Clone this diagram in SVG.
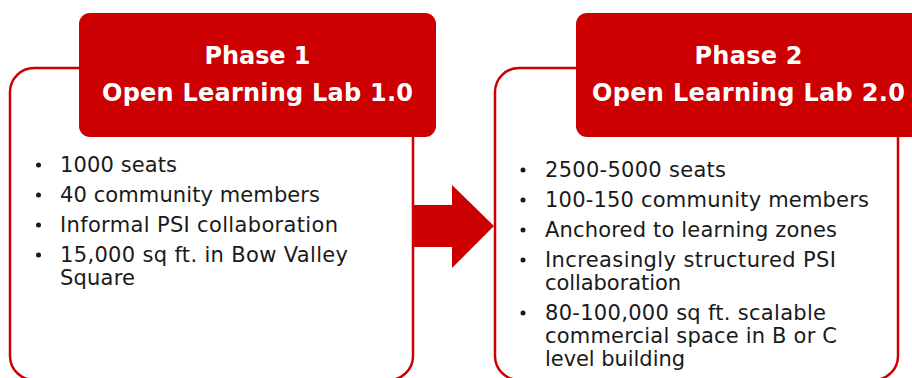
<svg xmlns="http://www.w3.org/2000/svg" width="912" height="378" viewBox="0 0 912 378">
  <defs>
    <style>
      .panel { fill: #ffffff; stroke: #cc0000; stroke-width: 2.5; }
      .header { fill: #cc0000; }
      .title { font-family: "DejaVu Sans", Verdana, sans-serif; font-weight: bold; font-size: 24px; fill: #ffffff; text-anchor: middle; }
      .item { font-family: "DejaVu Sans", Verdana, sans-serif; font-size: 21px; fill: #1a1a1a; }
      .dot { fill: #1a1a1a; }
      .arrow { fill: #cc0000; }
    </style>
  </defs>
  <rect width="912" height="378" fill="#ffffff"/>

  <!-- block arrow between the phases -->
  <g id="connectors">
    <polygon class="arrow" points="410,205 452,205 452,185 494,226 452,268 452,247 410,247"/>
  </g>

  <!-- Phase 1 -->
  <g id="phase1">
    <rect class="panel" x="10" y="68" width="403" height="312" rx="24" ry="24"/>
    <rect class="header" x="79" y="13" width="357" height="124" rx="11" ry="11"/>
    <text class="title" x="257.5" y="64" textLength="106">Phase 1</text>
    <text class="title" x="257.5" y="101" textLength="311">Open Learning Lab 1.0</text>
    <circle class="dot" cx="38.5" cy="165" r="2.5"/>
    <text class="item" x="60" y="172" textLength="117">1000 seats</text>
    <circle class="dot" cx="38.5" cy="195" r="2.5"/>
    <text class="item" x="60" y="202" textLength="260">40 community members</text>
    <circle class="dot" cx="38.5" cy="225" r="2.5"/>
    <text class="item" x="60" y="232" textLength="278">Informal PSI collaboration</text>
    <circle class="dot" cx="38.5" cy="255" r="2.5"/>
    <text class="item" x="60" y="262" textLength="288">15,000 sq ft. in Bow Valley</text>
    <text class="item" x="60" y="285" textLength="75">Square</text>
  </g>

  <!-- Phase 2 -->
  <g id="phase2">
    <rect class="panel" x="495" y="68" width="403" height="312" rx="24" ry="24"/>
    <rect class="header" x="576" y="13" width="346" height="124" rx="11" ry="11"/>
    <text class="title" x="748.5" y="64" textLength="108">Phase 2</text>
    <text class="title" x="748.5" y="101" textLength="313">Open Learning Lab 2.0</text>
    <circle class="dot" cx="523" cy="170" r="2.5"/>
    <text class="item" x="545" y="177" textLength="181">2500-5000 seats</text>
    <circle class="dot" cx="523" cy="200" r="2.5"/>
    <text class="item" x="545" y="207" textLength="324">100-150 community members</text>
    <circle class="dot" cx="523" cy="230" r="2.5"/>
    <text class="item" x="545" y="237" textLength="292">Anchored to learning zones</text>
    <circle class="dot" cx="523" cy="260" r="2.5"/>
    <text class="item" x="545" y="267" textLength="291">Increasingly structured PSI</text>
    <text class="item" x="545" y="290" textLength="136">collaboration</text>
    <circle class="dot" cx="523" cy="313" r="2.5"/>
    <text class="item" x="545" y="320" textLength="281">80-100,000 sq ft. scalable</text>
    <text class="item" x="545" y="343" textLength="292">commercial space in B or C</text>
    <text class="item" x="545" y="366" textLength="140">level building</text>
  </g>
</svg>
